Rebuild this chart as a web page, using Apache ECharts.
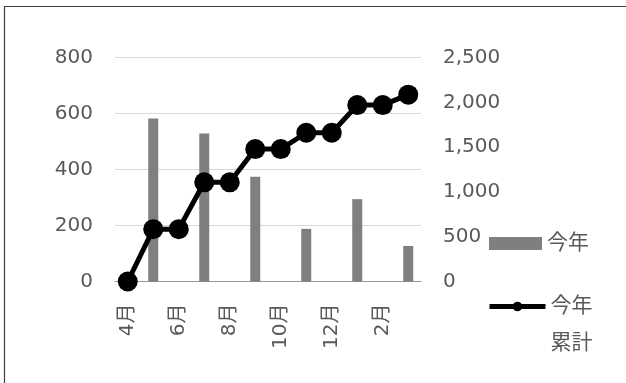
<!DOCTYPE html>
<html><head><meta charset="utf-8">
<script src="https://cdn.jsdelivr.net/npm/echarts@6/dist/echarts.min.js"></script>
<style>html,body{margin:0;padding:0;background:#fff}#c{width:626px;height:383px}</style>
</head><body><div id="c"></div>
<script>
const categories = ['4月','5月','6月','7月','8月','9月','10月','11月','12月','1月','2月','3月'];
const monthly = [0, 582, 0, 529, 0, 374, 0, 188, 0, 294, 0, 127];
const cumulative = [0, 584, 584, 1107, 1107, 1478, 1478, 1660, 1660, 1969, 1969, 2085];
const leftTicks = {min: 0, max: 800, interval: 200};
const rightTicks = {min: 0, max: 2500, interval: 500};
const barName = '今年';
const lineName = '今年累計';

const FONT = '"DejaVu Sans", "Noto Sans CJK JP", sans-serif';
const TXT = '#595959';
const chart = echarts.init(document.getElementById('c'), null, {renderer: 'canvas'});
chart.setOption({
  animation: false,
  backgroundColor: '#fff',
  textStyle: {fontFamily: FONT},
  graphic: [{
    type: 'rect', shape: {x: 4.5, y: 6.5, width: 700, height: 500},
    style: {fill: 'none', stroke: '#404040', lineWidth: 1.2}, silent: true, z: -1
  }],
  grid: {left: 115, right: 205, top: 57.5, bottom: 101.5, containLabel: false},
  legend: [{
    orient: 'vertical', left: 489, top: 233, padding: 0,
    itemWidth: 53, itemHeight: 13,
    data: [{name: barName, icon: 'rect'}],
    textStyle: {fontSize: 21, color: TXT, fontFamily: FONT}
  }, {
    orient: 'vertical', left: 487, top: 251, padding: 0,
    itemWidth: 56, itemHeight: 12,
    lineStyle: {width: 5},
    data: [{name: lineName}],
    formatter: function (n) { return n === lineName ? '\n今年\n累計' : n; },
    textStyle: {fontSize: 21, color: TXT, fontFamily: FONT, lineHeight: 37}
  }],
  xAxis: {
    type: 'category', data: categories, boundaryGap: true,
    axisLine: {lineStyle: {color: '#999', width: 1}},
    axisTick: {show: false},
    axisLabel: {rotate: 90, interval: 1, margin: 22, fontSize: 20, color: TXT, fontFamily: FONT}
  },
  yAxis: [{
    type: 'value', min: leftTicks.min, max: leftTicks.max, interval: leftTicks.interval,
    axisLine: {show: false}, axisTick: {show: false},
    splitLine: {lineStyle: {color: '#d9d9d9', width: 1}},
    axisLabel: {margin: 22, fontSize: 20, color: TXT, fontFamily: FONT}
  }, {
    type: 'value', min: rightTicks.min, max: rightTicks.max, interval: rightTicks.interval,
    axisLine: {show: false}, axisTick: {show: false}, splitLine: {show: false},
    axisLabel: {margin: 22, fontSize: 20, color: TXT, fontFamily: FONT,
      formatter: function (v) { return v.toLocaleString('en-US'); }}
  }],
  series: [{
    name: barName, type: 'bar', data: monthly, yAxisIndex: 0,
    barWidth: 10, itemStyle: {color: '#7f7f7f'}, z: 2
  }, {
    name: lineName, type: 'line', data: cumulative, yAxisIndex: 1,
    symbol: 'circle', symbolSize: 20, showAllSymbol: true,
    lineStyle: {color: '#000', width: 5}, itemStyle: {color: '#000'}, z: 3
  }]
});
</script></body></html>
